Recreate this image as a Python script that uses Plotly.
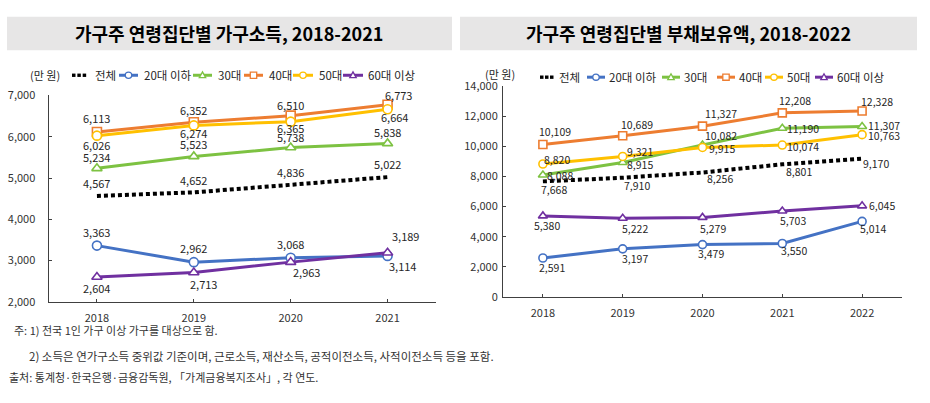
import plotly.graph_objects as go

W, H = 930, 403
FONT = "Noto Sans CJK KR"

# ---------------- data ----------------
series_names = ["전체", "20대 이하", "30대", "40대", "50대", "60대 이상"]

years_income = ["2018", "2019", "2020", "2021"]
income_total = [4567, 4652, 4836, 5022]
income_20s = [3363, 2962, 3068, 3114]
income_30s = [5234, 5523, 5738, 5838]
income_40s = [6113, 6352, 6510, 6773]
income_50s = [6026, 6274, 6365, 6664]
income_60s = [2604, 2713, 2963, 3189]

years_debt = ["2018", "2019", "2020", "2021", "2022"]
debt_total = [7668, 7910, 8256, 8801, 9170]
debt_20s = [2591, 3197, 3479, 3550, 5014]
debt_30s = [8088, 8915, 10082, 11190, 11307]
debt_40s = [10109, 10689, 11327, 12208, 12328]
debt_50s = [8820, 9321, 9915, 10074, 10763]
debt_60s = [5380, 5222, 5279, 5703, 6045]

title_income = "가구주 연령집단별 가구소득, 2018-2021"
title_debt = "가구주 연령집단별 부채보유액, 2018-2022"
unit_label = "(만 원)"
notes = [
    "주: 1) 전국 1인 가구 이상 가구를 대상으로 함.",
    "2) 소득은 연가구소득 중위값 기준이며, 근로소득, 재산소득, 공적이전소득, 사적이전소득 등을 포함.",
    "출처: 통계청·한국은행·금융감독원, 「가계금융복지조사」, 각 연도.",
]

# ---------------- styles ----------------
colors = ["#000000", "#4472C4", "#7DC242", "#ED7D31", "#FFC000", "#7030A0"]
symbols = [None, "circle", "triangle-up", "square", "circle", "triangle-up"]

# label offsets (px): (dx, dy) with dy positive = up
off_income = [
    [(0, 13), (0, 12), (0, 13), (0, 13)],
    [(0, 14), (0, 14), (0, 14), (15, -10)],
    [(0, 11), (0, 12), (0, 11), (0, 11)],
    [(0, 14), (0, 12), (0, 11), (11, 10)],
    [(0, -9), (0, -8), (0, -6), (7, -8)],
    [(0, -11), (10, -12), (16, -10), (18, 17)],
]
off_debt = [
    [(11, -8), (14, -8), (17, -6), (17, -7), (14, -5)],
    [(9, -10), (12, -10), (8, -9), (12, -7), (11, -7)],
    [(17, 0), (17, -2), (18, 9), (21, 0), (22, 1)],
    [(12, 13), (14, 11), (18, 13), (13, 12), (15, 10)],
    [(14, 4), (17, 5), (19, -1), (21, -1), (22, -1)],
    [(4, -10), (12, -10), (10, -11), (11, -9), (20, 0)],
]


def px(x):
    return x / W


def py(y):
    return 1 - y / H


def paper_text(x, y, text, size, color="#262626", xanchor="center"):
    return dict(x=px(x), y=py(y), xref="paper", yref="paper", text=text, showarrow=False,
                xanchor=xanchor, yanchor="middle", font=dict(family=FONT, size=size, color=color))


fig = go.Figure()

income_sets = [income_total, income_20s, income_30s, income_40s, income_50s, income_60s]
debt_sets = [debt_total, debt_20s, debt_30s, debt_40s, debt_50s, debt_60s]

annotations = []
for panel, (years, sets, offs, xa, ya, fs) in enumerate([
    (years_income, income_sets, off_income, "x", "y", 11),
    (years_debt, debt_sets, off_debt, "x2", "y2", 10.5),
]):
    for k, vals in enumerate(sets):
        if k == 0:
            fig.add_trace(go.Scatter(
                x=years, y=vals, mode="lines", name=series_names[k],
                line=dict(color=colors[k], width=4, dash="4px,3px"),
                xaxis=xa, yaxis=ya, showlegend=False))
        else:
            fig.add_trace(go.Scatter(
                x=years, y=vals, mode="lines+markers", name=series_names[k],
                line=dict(color=colors[k], width=3),
                marker=dict(symbol=symbols[k], size=9 if panel == 0 else 8,
                            color="white", line=dict(color=colors[k], width=1.6)),
                xaxis=xa, yaxis=ya, showlegend=False))
        for i, v in enumerate(vals):
            dx, dy = offs[k][i]
            annotations.append(dict(
                x=i, y=v, xref=xa, yref=ya, text=f"{v:,}", showarrow=False,
                xanchor="center", yanchor="middle",
                xshift=dx, yshift=dy, font=dict(family=FONT, size=fs, color="#262626")))

# ---------------- title boxes ----------------
shapes = []
shapes.append(dict(type="rect", xref="paper", yref="paper", x0=px(7), x1=px(452), y0=py(43), y1=py(8),
                   fillcolor="#E7E6E6", line=dict(width=0), layer="below"))
shapes.append(dict(type="rect", xref="paper", yref="paper", x0=px(460), x1=px(917), y0=py(43), y1=py(8),
                   fillcolor="#E7E6E6", line=dict(width=0), layer="below"))
annotations.append(paper_text(229, 25.5, f"<b>{title_income}</b>", 18, "#000000"))
annotations.append(paper_text(688, 25.5, f"<b>{title_debt}</b>", 18, "#000000"))

# ---------------- legends (manual) ----------------
legend_left = dict(unit=(45, 69), y=69, items=[(72, 88, 93), (119, 138, 142), (193, 212, 216),
                                               (244, 263, 267), (293, 313, 317), (343, 363, 366)])
legend_right = dict(unit=(500, 68), y=71, items=[(540, 555, 557), (587, 605, 607), (662, 680, 682),
                                                 (717, 735, 737), (765, 783, 785), (815, 833, 835)])
for lg in (legend_left, legend_right):
    ux, uy = lg["unit"]
    annotations.append(paper_text(ux, uy, unit_label, 11))
    yy = lg["y"]
    for k, (x0, x1, tx) in enumerate(lg["items"]):
        if k == 0:
            n = 3
            step = (x1 - x0) / n
            for j in range(n):
                shapes.append(dict(type="rect", xref="paper", yref="paper",
                                   x0=px(x0 + j * step), x1=px(x0 + j * step + 3.5),
                                   y0=py(yy + 1.75), y1=py(yy - 1.75),
                                   fillcolor="#000000", line=dict(width=0)))
        else:
            shapes.append(dict(type="line", xref="paper", yref="paper", x0=px(x0), x1=px(x1),
                               y0=py(yy), y1=py(yy), line=dict(color=colors[k], width=3)))
            cx = (x0 + x1) / 2
            r = 3.2
            sym = symbols[k]
            mk = dict(xref="paper", yref="paper", fillcolor="white",
                      line=dict(color=colors[k], width=1.3))
            if sym == "circle":
                shapes.append(dict(type="circle", x0=px(cx - r), x1=px(cx + r),
                                   y0=py(yy + r), y1=py(yy - r), **mk))
            elif sym == "square":
                shapes.append(dict(type="rect", x0=px(cx - r), x1=px(cx + r),
                                   y0=py(yy + r), y1=py(yy - r), **mk))
            else:
                path = (f"M{px(cx - r)},{py(yy + r * 0.8)} L{px(cx + r)},{py(yy + r * 0.8)} "
                        f"L{px(cx)},{py(yy - r * 1.1)} Z")
                shapes.append(dict(type="path", path=path, **mk))
        annotations.append(paper_text(tx, yy, series_names[k], 11.5, xanchor="left"))

# ---------------- notes ----------------
note_pos = [(12, 334, 11), (27, 361, 11.5), (7, 383, 11)]
for t, (nx, ny, ns) in zip(notes, note_pos):
    annotations.append(paper_text(nx, ny, t, ns, "#333333", xanchor="left"))

axis_common = dict(showgrid=False, zeroline=False, showline=True, linecolor="#404040", linewidth=1,
                   ticks="inside", ticklen=3, tickcolor="#404040",
                   tickfont=dict(family=FONT, size=11, color="#333333"))

fig.update_layout(
    width=W, height=H, margin=dict(l=0, r=0, t=0, b=0),
    paper_bgcolor="white", plot_bgcolor="white", showlegend=False,
    xaxis=dict(domain=[px(48.5), px(436)], type="category", range=[-0.5, 3.5],
               anchor="y", ticklabelstandoff=6, **axis_common),
    yaxis=dict(domain=[py(305), py(90)], range=[2000, 7000], dtick=1000, tickformat=",",
               anchor="x", ticklabelstandoff=10, **axis_common),
    xaxis2=dict(domain=[px(503), px(902)], type="category", range=[-0.5, 4.5],
                anchor="y2", ticklabelstandoff=6, **axis_common),
    yaxis2=dict(domain=[py(300), py(80)], range=[0, 14000], dtick=2000, tickformat=",",
                anchor="x2", ticklabelstandoff=2, **axis_common),
    shapes=shapes, annotations=annotations,
)

fig.write_html("out.html")
